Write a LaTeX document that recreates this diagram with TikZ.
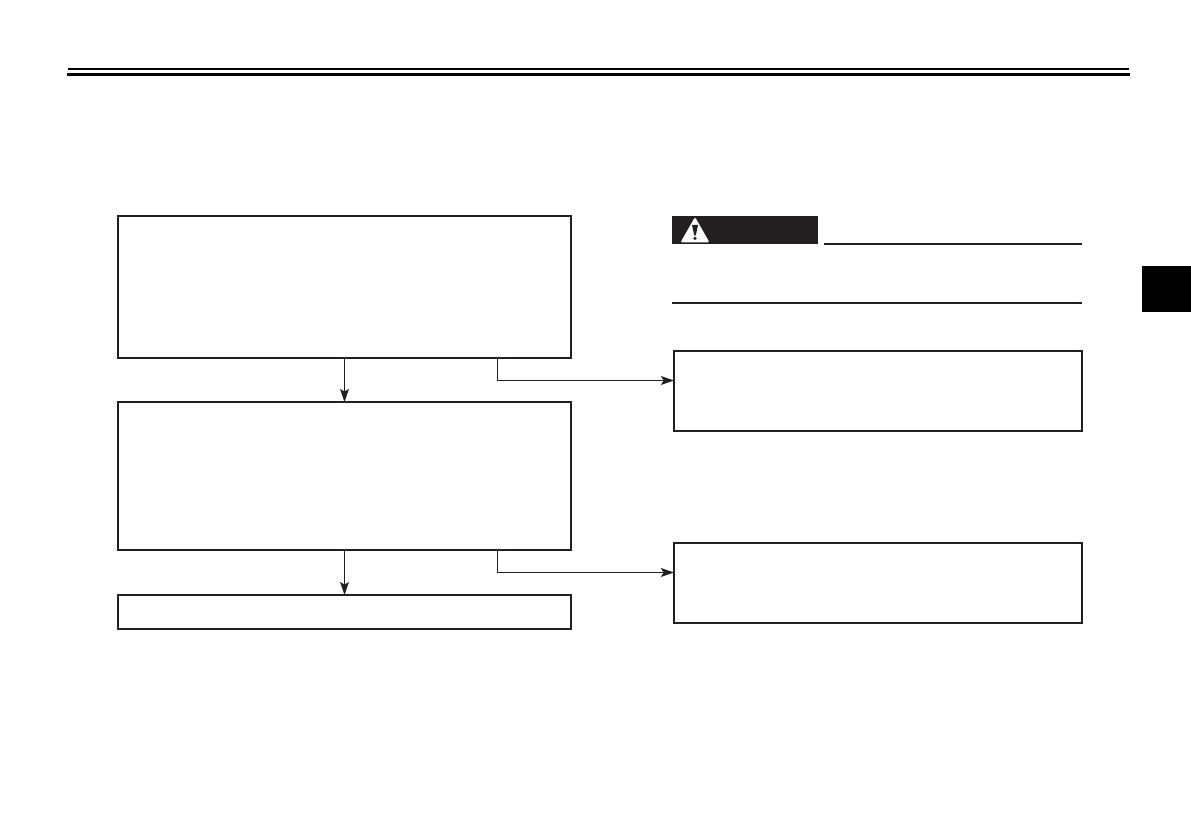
\documentclass[tikz,border=0pt]{standalone}
\usepackage{tikz}
\usetikzlibrary{arrows.meta,positioning,calc}
\definecolor{Ink}{HTML}{231F20}
\tikzset{
  >={Stealth[length=6.5pt,width=4.4pt,inset=1.3pt]},
  flowbox/.style={rectangle,draw=Ink,line width=1pt,fill=white,inner sep=0pt,outer sep=0pt},
  leftbox/.style={flowbox,minimum width=226.5pt},
  rightbox/.style={flowbox,minimum width=204pt,minimum height=40pt},
  flow/.style={->,line width=.55pt,draw=Ink},
  rulethin/.style={draw=black,line width=1pt},
  rulethick/.style={draw=black,line width=1.5pt},
  warnrule/.style={draw=Ink,line width=1pt},
  warnbar/.style={rectangle,fill=Ink,inner sep=0pt,outer sep=0pt,minimum width=73pt,minimum height=14pt},
  sidetab/.style={rectangle,fill=black,inner sep=0pt,outer sep=0pt,minimum width=24.5pt,minimum height=23pt}
}
\begin{document}
\begin{tikzpicture}[x=.5pt,y=-.5pt]
    \useasboundingbox (0,0) rectangle (1191,839);
    % header rules and side tab
    \draw[rulethin] (68,69)--(1129,69);
    \draw[rulethick] (67,74.5)--(1130,74.5);
    \node[sidetab] (tab) at (1166.5,289) {};
    % warning block
    \node[warnbar] (warn) at (745,230) {};
    \fill[white,rounded corners=1pt] (695,217)--(709.5,242.5)--(680.5,242.5)--cycle;
    \fill[Ink] (692,225)--(698,225)--(695.8,235.5)--(694.2,235.5)--cycle;
    \fill[Ink] (695,238.4) circle (1.8);
    \draw[warnrule] (824,244)--(1082,244);
    \draw[warnrule] (672,303)--(1082,303);
    % boxes
    \node[leftbox,minimum height=71pt] (check1) at (344.5,287) {};
    \node[leftbox,minimum height=74pt] (check2) at (344.5,476) {};
    \node[leftbox,minimum height=17pt] (done) at (344.5,612) {};
    \node[rightbox] (act1) at (878,391) {};
    \node[rightbox] (act2) at (878,583) {};
    % free ends of the branches
    \coordinate (tap1) at (497.5,358);
    \coordinate (tap2) at (497.5,550);
    \coordinate (in1) at (674,380.5);
    \coordinate (in2) at (674,572.5);
    % connectors
    \draw[flow] (check1.south)--(check2.north);
    \draw[flow] (check2.south)--(done.north);
    \draw[flow] (tap1)|-(in1);
    \draw[flow] (tap2)|-(in2);
  \end{tikzpicture}
\end{document}
